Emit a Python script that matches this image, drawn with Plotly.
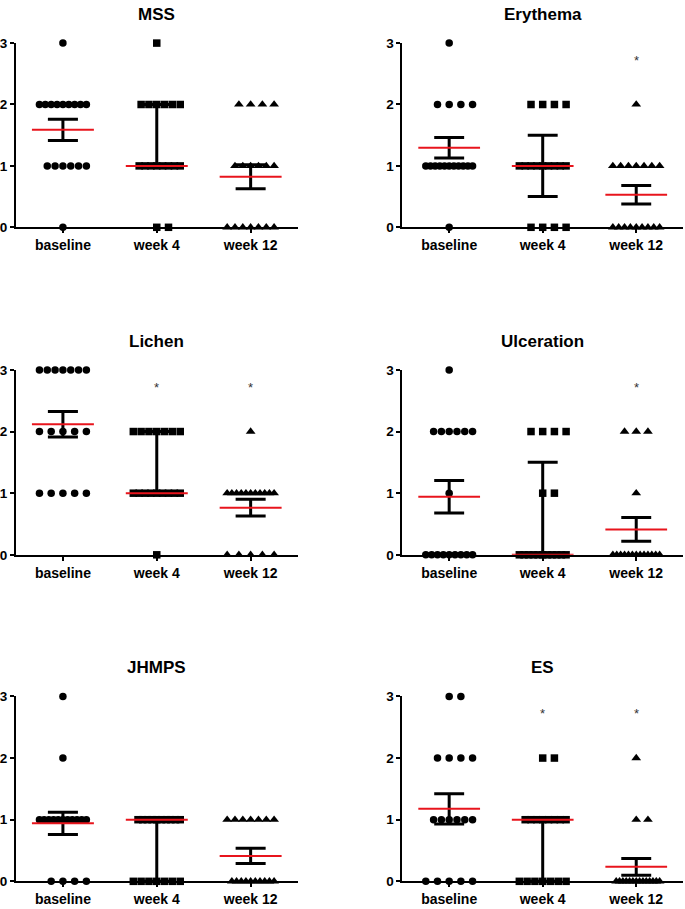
import numpy as np
import plotly.graph_objects as go

# ---------------- data (scores per patient, n = 17) ----------------
categories = ["baseline", "week 4", "week 12"]
panel_titles = ["MSS", "Erythema", "Lichen", "Ulceration", "JHMPS", "ES"]

mss_baseline = [3, 2, 2, 2, 2, 2, 2, 2, 2, 2, 1, 1, 1, 1, 1, 1, 0]
mss_week4 = [3, 2, 2, 2, 2, 2, 2, 1, 1, 1, 1, 1, 1, 1, 1, 0, 0]
mss_week12 = [2, 2, 2, 2, 1, 1, 1, 1, 1, 1, 0, 0, 0, 0, 0, 0, 0]

ery_baseline = [3, 2, 2, 2, 2, 1, 1, 1, 1, 1, 1, 1, 1, 1, 1, 1, 0]
ery_week4 = [2, 2, 2, 2, 1, 1, 1, 1, 1, 1, 1, 1, 1, 0, 0, 0, 0]
ery_week12 = [2, 1, 1, 1, 1, 1, 1, 1, 0, 0, 0, 0, 0, 0, 0, 0, 0]

lic_baseline = [3, 3, 3, 3, 3, 3, 3, 2, 2, 2, 2, 2, 1, 1, 1, 1, 1]
lic_week4 = [2, 2, 2, 2, 2, 2, 2, 1, 1, 1, 1, 1, 1, 1, 1, 1, 0]
lic_week12 = [2, 1, 1, 1, 1, 1, 1, 1, 1, 1, 1, 1, 0, 0, 0, 0, 0]

ulc_baseline = [3, 2, 2, 2, 2, 2, 2, 1, 0, 0, 0, 0, 0, 0, 0, 0, 0]
ulc_week4 = [2, 2, 2, 2, 1, 1, 0, 0, 0, 0, 0, 0, 0, 0, 0, 0, 0]
ulc_week12 = [2, 2, 2, 1, 0, 0, 0, 0, 0, 0, 0, 0, 0, 0, 0, 0, 0]

jhm_baseline = [3, 2, 1, 1, 1, 1, 1, 1, 1, 1, 1, 1, 1, 0, 0, 0, 0]
jhm_week4 = [1, 1, 1, 1, 1, 1, 1, 1, 1, 1, 0, 0, 0, 0, 0, 0, 0]
jhm_week12 = [1, 1, 1, 1, 1, 1, 1, 0, 0, 0, 0, 0, 0, 0, 0, 0, 0]

es_baseline = [3, 3, 2, 2, 2, 2, 1, 1, 1, 1, 1, 1, 0, 0, 0, 0, 0]
es_week4 = [2, 2, 1, 1, 1, 1, 1, 1, 1, 1, 0, 0, 0, 0, 0, 0, 0]
es_week12 = [2, 1, 1, 0, 0, 0, 0, 0, 0, 0, 0, 0, 0, 0, 0, 0, 0]

panel_data = [
    [mss_baseline, mss_week4, mss_week12],
    [ery_baseline, ery_week4, ery_week12],
    [lic_baseline, lic_week4, lic_week12],
    [ulc_baseline, ulc_week4, ulc_week12],
    [jhm_baseline, jhm_week4, jhm_week12],
    [es_baseline, es_week4, es_week12],
]
# statistic shown per time point
group_stat = ["mean_sem", "median_iqr", "mean_sem"]
# significance stars (panel index -> group indices)
star_groups = {1: [2], 2: [1, 2], 3: [2], 5: [1, 2]}
y_ticks = [0, 1, 2, 3]

# ---------------- layout constants ----------------
W, H = 685, 909
col_px = [(15, 297), (402, 683)]
row_px = [(36.7, 224), (369, 557), (701, 889)]
title_offset_px = 29
symbols = ["circle", "square", "triangle-up"]
sizes = [7.5, 7.5, 8.5]
RED = "#e8141c"
FONT = "Arial, Liberation Sans, sans-serif"

fig = go.Figure()


def jitter(values, step=0.125, kmax_allowed=2):
    vals = np.asarray(values, dtype=float)
    offs = np.zeros(len(vals))
    for v in np.unique(vals):
        idx = np.where(vals == v)[0]
        n = len(idx)
        ks = [0]
        k = 1
        while len(ks) < n:
            ks.append(k)
            if len(ks) < n:
                ks.append(-k)
            k += 1
        ks = np.array(ks[:n], dtype=float)
        kmax = np.max(np.abs(ks)) if n > 1 else 0
        scale = kmax_allowed / kmax if kmax > kmax_allowed else 1.0
        offs[idx] = ks * step * scale
    return offs


def stats(values, kind):
    v = np.asarray(values, dtype=float)
    if kind == "mean_sem":
        m = v.mean()
        s = v.std(ddof=1) / np.sqrt(len(v))
        return m, m - s, m + s
    med = np.median(v)
    q1 = np.percentile(v, 25, method="weibull")
    q3 = np.percentile(v, 75, method="weibull")
    return med, q1, q3


for p, groups in enumerate(panel_data):
    r, c = divmod(p, 2)
    ax = "" if p == 0 else str(p + 1)
    xref, yref = "x" + ax, "y" + ax
    x0, x1 = col_px[c]
    top, bot = row_px[r]
    xdom = [x0 / W, x1 / W]
    ydom = [1 - bot / H, 1 - top / H]

    axis_common = dict(
        showline=True, linewidth=2, linecolor="black", ticks="outside",
        ticklen=4, tickwidth=2, tickcolor="black", showgrid=False,
        zeroline=False, fixedrange=True,
    )
    fig.update_layout({
        "xaxis" + ax: dict(
            domain=xdom, anchor=yref, range=[-0.5, 2.5],
            tickvals=[0, 1, 2], ticktext=categories,
            tickfont=dict(family=FONT, size=14, color="black", weight="bold"),
            **axis_common),
        "yaxis" + ax: dict(
            domain=ydom, anchor=xref, range=[0, 3], tickvals=y_ticks,
            tickfont=dict(family=FONT, size=13.5, color="black", weight="bold"),
            **axis_common),
    })

    # points
    for g, vals in enumerate(groups):
        xs = g + jitter(vals)
        fig.add_trace(go.Scatter(
            x=xs, y=vals, mode="markers", xaxis=xref, yaxis=yref,
            marker=dict(symbol=symbols[g], size=sizes[g], color="black",
                        line=dict(width=0)),
            cliponaxis=False, showlegend=False, hoverinfo="skip"))

    # error bars and centre lines
    bx, by, rx, ry = [], [], [], []
    cap, cw = 0.16, 0.33
    for g, vals in enumerate(groups):
        ctr, lo, hi = stats(vals, group_stat[g])
        bx += [g, g, None, g - cap, g + cap, None, g - cap, g + cap, None]
        by += [lo, hi, None, lo, lo, None, hi, hi, None]
        rx += [g - cw, g + cw, None]
        ry += [ctr, ctr, None]
    fig.add_trace(go.Scatter(x=bx, y=by, mode="lines", xaxis=xref, yaxis=yref,
                             line=dict(color="black", width=3),
                             cliponaxis=False, showlegend=False, hoverinfo="skip"))
    fig.add_trace(go.Scatter(x=rx, y=ry, mode="lines", xaxis=xref, yaxis=yref,
                             line=dict(color=RED, width=2),
                             cliponaxis=False, showlegend=False, hoverinfo="skip"))

    # title
    fig.add_annotation(
        x=(xdom[0] + xdom[1]) / 2, y=1 - (top - title_offset_px) / H,
        xref="paper", yref="paper", text=panel_titles[p], showarrow=False,
        xanchor="center", yanchor="middle",
        font=dict(family=FONT, size=17, color="black", weight="bold"))

    # stars
    for g in star_groups.get(p, []):
        fig.add_annotation(x=g, y=2.72, xref=xref, yref=yref, text="*",
                           showarrow=False, xanchor="center", yanchor="middle",
                           font=dict(family=FONT, size=13, color="#333333"))

fig.update_layout(
    width=W, height=H, margin=dict(l=0, r=0, t=0, b=0),
    paper_bgcolor="white", plot_bgcolor="white", showlegend=False,
)

fig.write_html("out.html")
